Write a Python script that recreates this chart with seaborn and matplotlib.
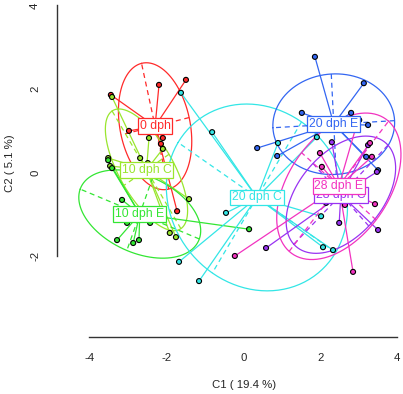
import numpy as np
import pandas as pd
import matplotlib
matplotlib.use("Agg")
import matplotlib.pyplot as plt
import seaborn as sns

# groups (level order) and their colours
groups = ["0 dph", "10 dph C", "10 dph E", "20 dph C", "20 dph E", "28 dph C", "28 dph E"]
colours = ["#ff2a2a", "#99e62e", "#33e633", "#33e6e6", "#3366f2", "#9933f2", "#f233c0"]

# coordinates (C1, C2)
x_0dph = [-3.44, -2.19, -1.49, -2.97, -2.09, -2.14, -1.72]
y_0dph = [1.86, 2.10, 2.22, 1.00, 0.83, 0.69, -0.92]

x_10c = [-3.41, -2.45, -2.09, -2.68, -2.48, -1.41, -1.91, -1.75, -3.51, -3.46]
y_10c = [1.81, 0.83, 0.57, 0.35, 0.23, -0.63, -1.44, -1.54, 0.35, 0.16]

x_10e = [-3.15, -3.02, -2.42, -3.28, -2.86, -2.71, 0.15, -3.51, -3.41]
y_10e = [-0.65, -1.20, -1.20, -1.61, -1.68, -1.61, -1.35, 0.30, 0.11]

x_20c = [-1.62, -0.81, -0.45, -1.67, -1.15, 1.91, 0.90, 2.02, 2.07, 2.33]
y_20c = [1.91, 0.97, -0.96, -2.13, -2.59, 0.85, 0.71, -1.04, -1.78, -1.85]

x_20e = [1.86, 3.13, 1.52, 2.80, 3.01, 3.24, 0.36, 0.88, 3.19, 3.50]
y_20e = [2.77, 2.14, 1.43, 1.43, 1.26, 1.14, 0.59, 0.40, 0.38, 0.06]

x_28c = [0.59, 2.49, 3.50, 2.15, 2.30, 3.47, 3.24]
y_28c = [-1.80, -1.20, -1.37, -0.72, 0.73, 0.02, 0.66]

x_28e = [-0.22, 1.99, 2.04, 2.98, 3.29, 3.34, 3.42, 2.85, 2.64]
y_28e = [-1.99, 0.47, 0.14, 1.26, 0.71, 0.38, -0.75, -2.37, -0.77]

xs_all = [x_0dph, x_10c, x_10e, x_20c, x_20e, x_28c, x_28e]
ys_all = [y_0dph, y_10c, y_10e, y_20c, y_20e, y_28c, y_28e]

#building one long table for seaborn
rows = []
for g, xs, ys in zip(groups, xs_all, ys_all):
    for a, b in zip(xs, ys):
        rows.append((g, a, b))
data = pd.DataFrame(rows, columns=["group", "C1", "C2"])

sns.set_style("white")
plt.rcParams['font.family'] = ['Liberation Sans', 'DejaVu Sans']
plt.rcParams['axes.unicode_minus'] = False

fig = plt.figure(figsize=(4.03, 3.94), dpi=100)
ax = fig.add_axes([0.1407, 0.1454, 0.9288, 0.880])

#stars and ellipses (1.5 sd, like ade4 s.class)
t = np.linspace(0, 2 * np.pi, 101)
for g, col in zip(groups, colours):
    sub = data[data["group"] == g]
    px = sub["C1"].to_numpy()
    py = sub["C2"].to_numpy()
    mx, my = px.mean(), py.mean()
    for a, b in zip(px, py):
        ax.plot([mx, a], [my, b], color=col, lw=0.9, zorder=2)
    cov = np.cov(px, py, bias=True)
    vals, vecs = np.linalg.eigh(cov)
    l2, l1 = 1.5 * np.sqrt(np.clip(vals, 0, None))
    v2, v1 = vecs[:, 0], vecs[:, 1]
    ex = mx + l1 * np.cos(t) * v1[0] + l2 * np.sin(t) * v2[0]
    ey = my + l1 * np.cos(t) * v1[1] + l2 * np.sin(t) * v2[1]
    ax.plot(ex, ey, color=col, lw=0.9, zorder=2)
    ax.plot([mx - l1 * v1[0], mx + l1 * v1[0]], [my - l1 * v1[1], my + l1 * v1[1]],
            color=col, lw=0.9, ls=(0, (4, 3)), zorder=2)
    ax.plot([mx - l2 * v2[0], mx + l2 * v2[0]], [my - l2 * v2[1], my + l2 * v2[1]],
            color=col, lw=0.9, ls=(0, (4, 3)), zorder=2)

#points on top of the lines
sns.scatterplot(data=data, x="C1", y="C2", hue="group", hue_order=groups,
                palette=colours, s=13, edgecolor="black", linewidth=0.8,
                legend=False, ax=ax, zorder=3)

#group labels at the centroids
for g, col in zip(groups, colours):
    sub = data[data["group"] == g]
    ax.text(sub["C1"].mean(), sub["C2"].mean(), g, color=col, fontsize=8.8,
            ha="center", va="center", zorder=4,
            bbox=dict(boxstyle="square,pad=0.15", fc="white", ec=col, lw=0.9))

ax.set_xlim(-4.847, 4.875)
ax.set_ylim(-3.92, 4.368)
ax.set_xticks([-4, -2, 0, 2, 4])
ax.set_yticks([-2, 0, 2, 4])
ax.set_yticklabels(["-2", "0", "2", "4"], rotation=90, va="center")
ax.spines["top"].set_visible(False)
ax.spines["right"].set_visible(False)
ax.spines["left"].set_bounds(-2, 4)
ax.spines["bottom"].set_bounds(-4, 4)
for s in ["left", "bottom"]:
    ax.spines[s].set_color("#333333")
    ax.spines[s].set_linewidth(1.0)
ax.tick_params(axis="both", length=5, width=1.0, color="#333333", labelsize=8.2, pad=7, direction="out")
ax.set_xlabel("C1 ( 19.4 %)", fontsize=8.2, labelpad=12)
ax.set_ylabel("C2 ( 5.1 %)", fontsize=8.2, labelpad=11)

plt.savefig("out.png", dpi=100)
